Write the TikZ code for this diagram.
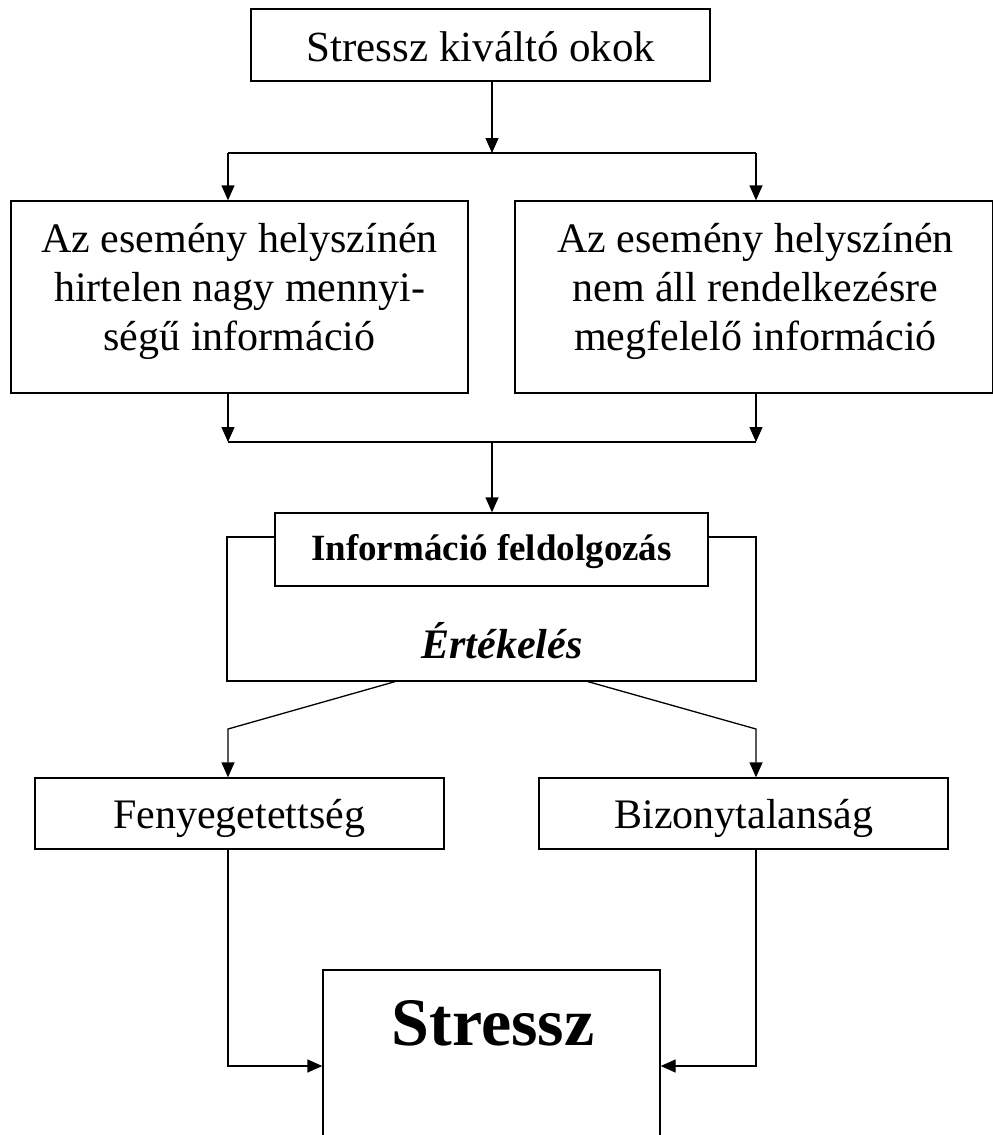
\documentclass[tikz,border=0pt]{standalone}
\usepackage{fontspec}
\setmainfont{Liberation Serif}
\usetikzlibrary{arrows.meta}
\begin{document}
\begin{tikzpicture}[x=1pt,y=-1pt,
  box/.style={draw,line width=1.3pt,rectangle,inner sep=0pt},
  conn/.style={line width=1.3pt},
  arr/.style={conn,-{Triangle[length=15pt,width=13pt]}},
  txt/.style={inner sep=0pt,anchor=base},
  mtxt/.style={inner sep=0pt,align=center,font=\fontsize{42}{49}\selectfont},
  ]
\useasboundingbox (0,0) rectangle (993,1135);
\clip (0,0) rectangle (993,1135);
% boxes
\node[box,minimum width=459pt,minimum height=72pt] (T) at (480.5,45) {};
\node[box,minimum width=457pt,minimum height=192pt] (L) at (239.5,297) {};
\node[box,minimum width=478pt,minimum height=192pt] (R) at (754,297) {};
\node[box,minimum width=529pt,minimum height=144pt] (E) at (491.5,609) {};
\node[box,fill=white,minimum width=433pt,minimum height=73pt] (I) at (491.5,549.5) {};
\node[box,minimum width=409pt,minimum height=71pt] (F) at (239.5,813.5) {};
\node[box,minimum width=409pt,minimum height=71pt] (B) at (743.5,813.5) {};
\node[box,minimum width=337pt,minimum height=230pt] (S) at (491.5,1085) {};
% texts
\node[txt,font=\fontsize{43}{50}\selectfont] (Tt) at (481,61) {Stressz kiváltó okok};
\node[mtxt] (Lt) at (239.5,291) {Az esemény helyszínén\\hirtelen nagy mennyi-\\ségű információ};
\node[mtxt] (Rt) at (755.5,291) {Az esemény helyszínén\\nem áll rendelkezésre\\megfelelő információ};
\node[txt,font={\fontsize{37}{44}\selectfont\bfseries}] (It) at (491.5,560) {Információ feldolgozás};
\node[txt,font={\fontsize{42}{48}\selectfont\bfseries\itshape}] (Et) at (502,658) {Értékelés};
\node[txt,font=\fontsize{42}{48}\selectfont] (Ft) at (239,828) {Fenyegetettség};
\node[txt,font=\fontsize{42}{48}\selectfont] (Bt) at (744,828) {Bizonytalanság};
\node[txt,font={\fontsize{68}{80}\selectfont\bfseries}] (St) at (493,1045) {Stressz};
% connectors: top
\coordinate (j1) at (492,153);
\coordinate (jl) at (228,153);
\coordinate (jr) at (756,153);
\draw[arr] (T.south -| j1) -- (j1);
\draw[conn] (jl) -- (jr);
\draw[arr] (jl) -- (jl |- L.north);
\draw[arr] (jr) -- (jr |- R.north);
% merge
\coordinate (kl) at (228,442);
\coordinate (kr) at (756,442);
\coordinate (k) at (492,442);
\draw[arr] (L.south -| kl) -- (kl);
\draw[arr] (R.south -| kr) -- (kr);
\draw[conn] (kl) -- (kr);
\draw[arr] (k) -- (k |- I.north);
% evaluation split
\coordinate (dl) at (228,729);
\coordinate (dr) at (756,729);
\draw[arr] ([xshift=-96.5pt]E.south) -- (dl) -- (dl |- F.north);
\draw[arr] ([xshift=96.5pt]E.south) -- (dr) -- (dr |- B.north);
% to stress
\coordinate (ml) at (228,1066);
\coordinate (mr) at (756,1066);
\draw[arr] (F.south -| ml) -- (ml) -- (ml -| S.west);
\draw[arr] (B.south -| mr) -- (mr) -- (mr -| S.east);
\end{tikzpicture}
\end{document}
